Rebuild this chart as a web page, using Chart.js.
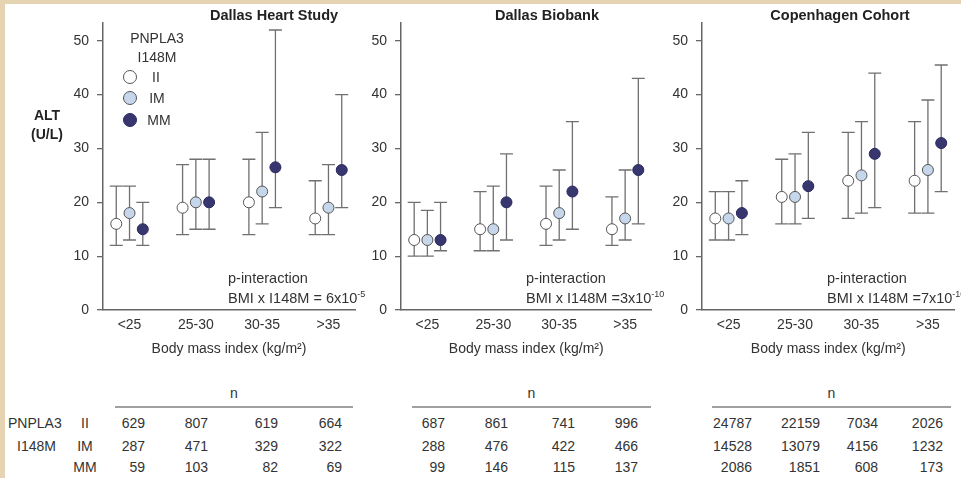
<!DOCTYPE html>
<html>
<head>
<meta charset="utf-8">
<script src="https://cdn.jsdelivr.net/npm/chart.js@4"></script>
<style>
  html, body { margin: 0; padding: 0; background: #fff; }
  body { width: 961px; height: 478px; position: relative; overflow: hidden;
         font-family: "Liberation Sans", Arial, sans-serif; color: #333; }
  .frame-l { position: absolute; left: 0; top: 0; width: 5px; height: 478px; background: #e6d3b1; }
  .frame-t { position: absolute; left: 0; top: 0; width: 961px; height: 4px; background: #e6d3b1; }
  canvas { position: absolute; top: 0; }
  .abs { position: absolute; white-space: nowrap; }
  .title { font-weight: bold; font-size: 14.5px; color: #222; transform: translateX(-50%); }
  .alt { font-weight: bold; font-size: 14px; color: #222; text-align: center; line-height: 19px; }
  .pint { font-size: 14.5px; line-height: 20px; color: #333; }
  .pint sup { font-size: 9px; vertical-align: 6px; line-height: 0; }
  .leg { font-size: 14px; color: #333; transform: translateX(-50%); }
  .dot { position: absolute; width: 12px; height: 12px; border-radius: 50%; border: 1px solid #555; }
  .cell { position: absolute; font-size: 14px; color: #333; line-height: 16px; }
  .rule { position: absolute; height: 2px; background: #a0a0a0; }
</style>
</head>
<body>
<div class="frame-l"></div>
<div class="frame-t"></div>

<canvas id="c1" width="362" height="370" style="left:0px;width:362px;height:370px"></canvas>
<canvas id="c2" width="296" height="370" style="left:362px;width:296px;height:370px"></canvas>
<canvas id="c3" width="303" height="370" style="left:658px;width:303px;height:370px"></canvas>

<div class="abs title" style="left:274px;top:7px">Dallas Heart Study</div>
<div class="abs title" style="left:547px;top:7px">Dallas Biobank</div>
<div class="abs title" style="left:840px;top:7px">Copenhagen Cohort</div>

<div class="abs alt" style="left:26px;top:106px;width:42px">ALT<br>(U/L)</div>

<div class="abs leg" style="left:157px;top:30px">PNPLA3</div>
<div class="abs leg" style="left:157px;top:49px">I148M</div>
<div class="dot" style="left:123px;top:70px;background:#fff"></div>
<div class="dot" style="left:123px;top:91px;background:#c6d7ec"></div>
<div class="dot" style="left:123px;top:113px;background:#38366f;border-color:#2a2860"></div>
<div class="abs leg" style="left:156px;top:69px">II</div>
<div class="abs leg" style="left:157px;top:90px">IM</div>
<div class="abs leg" style="left:159px;top:112px">MM</div>

<div class="abs pint" style="left:228px;top:268px">p-interaction<br>BMI x I148M = 6x10<sup>-5</sup></div>
<div class="abs pint" style="left:526px;top:268px">p-interaction<br>BMI x I148M =3x10<sup>-10</sup></div>
<div class="abs pint" style="left:827px;top:268px">p-interaction<br>BMI x I148M =7x10<sup>-10</sup></div>

<div id="table"></div>

<script>
// ---- data ----
const bmiGroups = ['<25', '25-30', '30-35', '>35'];
const genotypes = ['II', 'IM', 'MM'];

// Dallas Heart Study: [II, IM, MM] x BMI group
const dhsMean = [[16, 19, 20, 17], [18, 20, 22, 19], [15, 20, 26.5, 26]];
const dhsLow  = [[12, 14, 14, 14], [13, 15, 16, 14], [12, 15, 19, 19]];
const dhsHigh = [[23, 27, 28, 24], [23, 28, 33, 27], [20, 28, 52, 40]];
const dhsN    = [[629, 807, 619, 664], [287, 471, 329, 322], [59, 103, 82, 69]];

// Dallas Biobank
const dbbMean = [[13, 15, 16, 15], [13, 15, 18, 17], [13, 20, 22, 26]];
const dbbLow  = [[10, 11, 12, 12], [10, 11, 13, 13], [11, 13, 15, 16]];
const dbbHigh = [[20, 22, 23, 21], [18.5, 23, 26, 26], [20, 29, 35, 43]];
const dbbN    = [[687, 861, 741, 996], [288, 476, 422, 466], [99, 146, 115, 137]];

// Copenhagen Cohort
const cphMean = [[17, 21, 24, 24], [17, 21, 25, 26], [18, 23, 29, 31]];
const cphLow  = [[13, 16, 17, 18], [13, 16, 18, 18], [14, 17, 19, 22]];
const cphHigh = [[22, 28, 33, 35], [22, 29, 35, 39], [24, 33, 44, 45.5]];
const cphN    = [[24787, 22159, 7034, 2026], [14528, 13079, 4156, 1232], [2086, 1851, 608, 173]];

const yTicks = [0, 10, 20, 30, 40, 50];

const fills   = ['#ffffff', '#c6d7ec', '#38366f'];
const borders = ['#555555', '#555555', '#2a2860'];
const offsets = [-0.2, 0, 0.2];

// ---- error bars drawn through the chart scales ----
const errorBars = {
  id: 'errorBars',
  beforeDatasetsDraw(chart) {
    const { ctx, scales: { x, y } } = chart;
    ctx.save();
    ctx.strokeStyle = '#707070';
    ctx.lineWidth = 1.3;
    chart.data.datasets.forEach(ds => {
      ds.data.forEach(p => {
        const px = x.getPixelForValue(p.x);
        const yl = y.getPixelForValue(p.lo);
        const yh = y.getPixelForValue(p.hi);
        ctx.beginPath();
        ctx.moveTo(px, yl); ctx.lineTo(px, yh);
        ctx.moveTo(px - 6.5, yl); ctx.lineTo(px + 6.5, yl);
        ctx.moveTo(px - 6.5, yh); ctx.lineTo(px + 6.5, yh);
        ctx.stroke();
      });
    });
    ctx.restore();
  }
};

function makePanel(id, mean, low, high, yWidth, padRight) {
  const datasets = genotypes.map((g, gi) => ({
    label: g,
    data: bmiGroups.map((b, bi) => ({
      x: bi + 1 + offsets[gi], y: mean[gi][bi], lo: low[gi][bi], hi: high[gi][bi]
    })),
    backgroundColor: fills[gi],
    borderColor: borders[gi],
    borderWidth: 1,
    pointRadius: 5.5,
    pointHoverRadius: 5.5,
    showLine: false
  }));

  new Chart(document.getElementById(id), {
    type: 'scatter',
    data: { datasets },
    plugins: [errorBars],
    options: {
      responsive: false,
      animation: false,
      layout: { padding: { left: 0, right: padRight, top: 23, bottom: 0 } },
      plugins: { legend: { display: false }, tooltip: { enabled: false } },
      scales: {
        x: {
          type: 'linear', min: 0.6, max: 4.4,
          afterBuildTicks: s => { s.ticks = bmiGroups.map((b, i) => ({ value: i + 1 })); },
          afterFit: s => { s.height = 60; },
          grid: { drawOnChartArea: false, drawTicks: false },
          border: { display: true, color: '#666', width: 1.5 },
          ticks: {
            callback: v => bmiGroups[v - 1],
            color: '#333', font: { family: 'Liberation Sans, Arial', size: 14 },
            padding: 7, maxRotation: 0, autoSkip: false
          },
          title: {
            display: true, text: 'Body mass index (kg/m²)', color: '#333',
            font: { family: 'Liberation Sans, Arial', size: 14 },
            padding: { top: 0, bottom: 12 }
          }
        },
        y: {
          min: 0, max: 53.3,
          afterBuildTicks: s => { s.ticks = yTicks.map(v => ({ value: v })); },
          afterFit: s => { s.width = yWidth; },
          grid: { drawOnChartArea: false, drawTicks: true, tickLength: 6, color: '#666', lineWidth: 1.3 },
          border: { display: true, color: '#666', width: 1.5 },
          ticks: {
            color: '#333', font: { family: 'Liberation Sans, Arial', size: 14 }, padding: 8
          }
        }
      }
    }
  });
}

makePanel('c1', dhsMean, dhsLow, dhsHigh, 103, 7);
makePanel('c2', dbbMean, dbbLow, dbbHigh, 39, 6);
makePanel('c3', cphMean, cphLow, cphHigh, 44, 6);

// ---- n table ----
const table = document.getElementById('table');
function addCell(text, left, top, align, width) {
  const d = document.createElement('div');
  d.className = 'cell';
  d.textContent = text;
  d.style.top = top + 'px';
  d.style.width = width + 'px';
  d.style.textAlign = align;
  d.style.left = left + 'px';
  table.appendChild(d);
}
const rowTops = [415, 438, 459];
addCell('PNPLA3', 8, 415, 'left', 70);
addCell('I148M', 17, 438, 'left', 70);
genotypes.forEach((g, i) => addCell(g, 70, rowTops[i], 'center', 30));

const panels = [
  { n: dhsN, rights: [145, 208, 278, 342], rule: [115, 353] },
  { n: dbbN, rights: [445, 508, 575, 638], rule: [412, 651] },
  { n: cphN, rights: [752, 820, 878, 943], rule: [712, 951] }
];
panels.forEach(p => {
  const r = document.createElement('div');
  r.className = 'rule';
  r.style.left = p.rule[0] + 'px';
  r.style.top = '406px';
  r.style.width = (p.rule[1] - p.rule[0]) + 'px';
  table.appendChild(r);
  addCell('n', (p.rule[0] + p.rule[1]) / 2 - 20, 385, 'center', 40);
  p.n.forEach((row, gi) => {
    row.forEach((v, bi) => addCell(String(v), p.rights[bi] - 60, rowTops[gi], 'right', 60));
  });
});
</script>
</body>
</html>
